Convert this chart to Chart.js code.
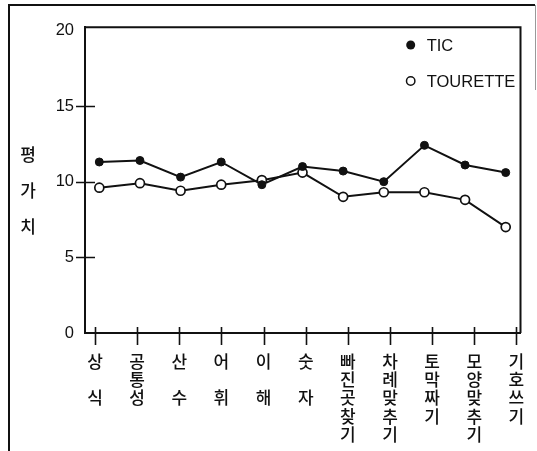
<!DOCTYPE html>
<html>
<head>
<meta charset="utf-8">
<script src="https://cdn.jsdelivr.net/npm/chart.js@4.4.1/dist/chart.umd.min.js"></script>
<style>
  html, body { margin: 0; padding: 0; background: #fff; }
  #wrap { width: 537px; height: 451px; position: relative; }
</style>
</head>
<body>
<div id="wrap"><canvas id="c" width="537" height="451"></canvas></div>
<script>
// ---- data ----
const categories = ['상식', '공통성', '산수', '어휘', '이해', '숫자', '빠진곳찾기', '차례맞추기', '토막짜기', '모양맞추기', '기호쓰기'];
const ticValues = [11.3, 11.4, 10.3, 11.3, 9.8, 11.0, 10.7, 10.0, 12.4, 11.1, 10.6];
const touretteValues = [9.6, 9.9, 9.4, 9.8, 10.1, 10.6, 9.0, 9.3, 9.3, 8.8, 7.0];
const yTickValues = [0, 5, 10, 15, 20];
const seriesNames = ['TIC', 'TOURETTE'];
const yTitle = '평가치';

const INK = '#111';
const LATIN = '"Liberation Sans", Arial, sans-serif';
const KOREAN = '"Noto Sans CJK KR", "Noto Sans", sans-serif';

function verticalLabel(name) {
  const chars = Array.from(name);
  if (chars.length === 2) return [chars[0], '', chars[1]];
  return chars;
}

const framePlugin = {
  id: 'frame',
  beforeDraw(chart) {
    const c = chart.ctx;
    c.save();
    c.fillStyle = '#fff';
    c.fillRect(0, 0, chart.width, chart.height);
    c.strokeStyle = INK;
    c.lineWidth = 2;
    c.beginPath();
    c.moveTo(9, 451); c.lineTo(9, 5); c.lineTo(535, 5);
    c.stroke();
    c.strokeStyle = '#999';
    c.lineWidth = 1;
    c.beginPath();
    c.moveTo(535.5, 5); c.lineTo(535.5, 90);
    c.stroke();
    c.restore();
  },
  afterDraw(chart) {
    const c = chart.ctx;
    const a = chart.chartArea;
    const xs = chart.scales.x, ys = chart.scales.y;
    c.save();
    c.strokeStyle = INK;
    c.lineWidth = 2;
    // top and right of plot box
    c.beginPath();
    c.moveTo(a.left, a.top); c.lineTo(a.right, a.top); c.lineTo(a.right, a.bottom);
    c.stroke();
    // crossing tick marks
    c.lineWidth = 1.6;
    c.beginPath();
    categories.forEach((_, i) => {
      const px = Math.round(xs.getPixelForValue(i)) + 0.5;
      c.moveTo(px, a.bottom - 6); c.lineTo(px, a.bottom + 12);
    });
    [5, 10, 15].forEach(v => {
      const py = Math.round(ys.getPixelForValue(v)) + 0.5;
      c.moveTo(a.left - 9, py); c.lineTo(a.left + 10, py);
    });
    c.stroke();
    // y axis title, stacked vertically
    c.fillStyle = INK;
    c.font = '500 17px ' + KOREAN;
    c.textAlign = 'center';
    c.textBaseline = 'middle';
    Array.from(yTitle).forEach((ch, i) => c.fillText(ch, 28, 155 + i * 36));
    // legend
    const lx = 410.7, ly = [45, 81];
    chart.data.datasets.forEach((ds, i) => {
      c.beginPath();
      c.arc(lx, ly[i], i === 0 ? 4.5 : 4.2, 0, Math.PI * 2);
      if (i === 0) { c.fillStyle = INK; c.fill(); }
      else { c.fillStyle = '#fff'; c.fill(); c.lineWidth = 1.5; c.strokeStyle = INK; c.stroke(); }
      c.fillStyle = INK;
      c.font = '16.5px ' + LATIN;
      c.textAlign = 'left';
      c.textBaseline = 'middle';
      c.fillText(ds.label, 426.7, ly[i] + 1);
    });
    c.restore();
  }
};

new Chart(document.getElementById('c'), {
  type: 'line',
  data: {
    datasets: [
      {
        label: seriesNames[0],
        data: ticValues.map((v, i) => ({ x: i, y: v })),
        xAxisID: 'xd',
        borderColor: INK, borderWidth: 2,
        pointRadius: 4, pointBackgroundColor: INK, pointBorderColor: INK, pointBorderWidth: 1,
        tension: 0
      },
      {
        label: seriesNames[1],
        data: touretteValues.map((v, i) => ({ x: i, y: v })),
        xAxisID: 'xd',
        borderColor: INK, borderWidth: 2,
        pointRadius: 4.5, pointBackgroundColor: '#fff', pointBorderColor: INK, pointBorderWidth: 1.7,
        tension: 0
      }
    ]
  },
  options: {
    responsive: false,
    animation: false,
    layout: { padding: { left: 0, right: 16.5, top: 27.3, bottom: 0 } },
    plugins: { legend: { display: false }, tooltip: { enabled: false } },
    scales: {
      xd: {
        type: 'linear', position: 'bottom', display: false,
        min: -0.352, max: 10.364
      },
      x: {
        type: 'linear', position: 'bottom',
        min: -0.237, max: 10.097,
        afterBuildTicks: s => { s.ticks = categories.map((_, i) => ({ value: i })); },
        afterFit: s => { s.height = 451 - 333; s.paddingLeft = 0; s.paddingRight = 0; },
        grid: { display: false, drawTicks: false },
        border: { display: true, color: INK, width: 2 },
        ticks: {
          autoSkip: false, maxRotation: 0, minRotation: 0,
          padding: 19, color: INK,
          font: { family: KOREAN, size: 17, weight: '500', lineHeight: 1.08 },
          callback: v => verticalLabel(categories[v])
        }
      },
      y: {
        type: 'linear', position: 'left',
        min: 0, max: 20.2,
        afterBuildTicks: s => { s.ticks = yTickValues.map(v => ({ value: v })); },
        afterFit: s => { s.width = 85; s.paddingTop = 0; s.paddingBottom = 0; },
        grid: { display: false, drawTicks: false },
        border: { display: true, color: INK, width: 2 },
        ticks: {
          padding: 11, color: INK,
          font: { family: LATIN, size: 16.5 },
          callback: v => String(v)
        }
      }
    }
  },
  plugins: [framePlugin]
});
</script>
</body>
</html>
